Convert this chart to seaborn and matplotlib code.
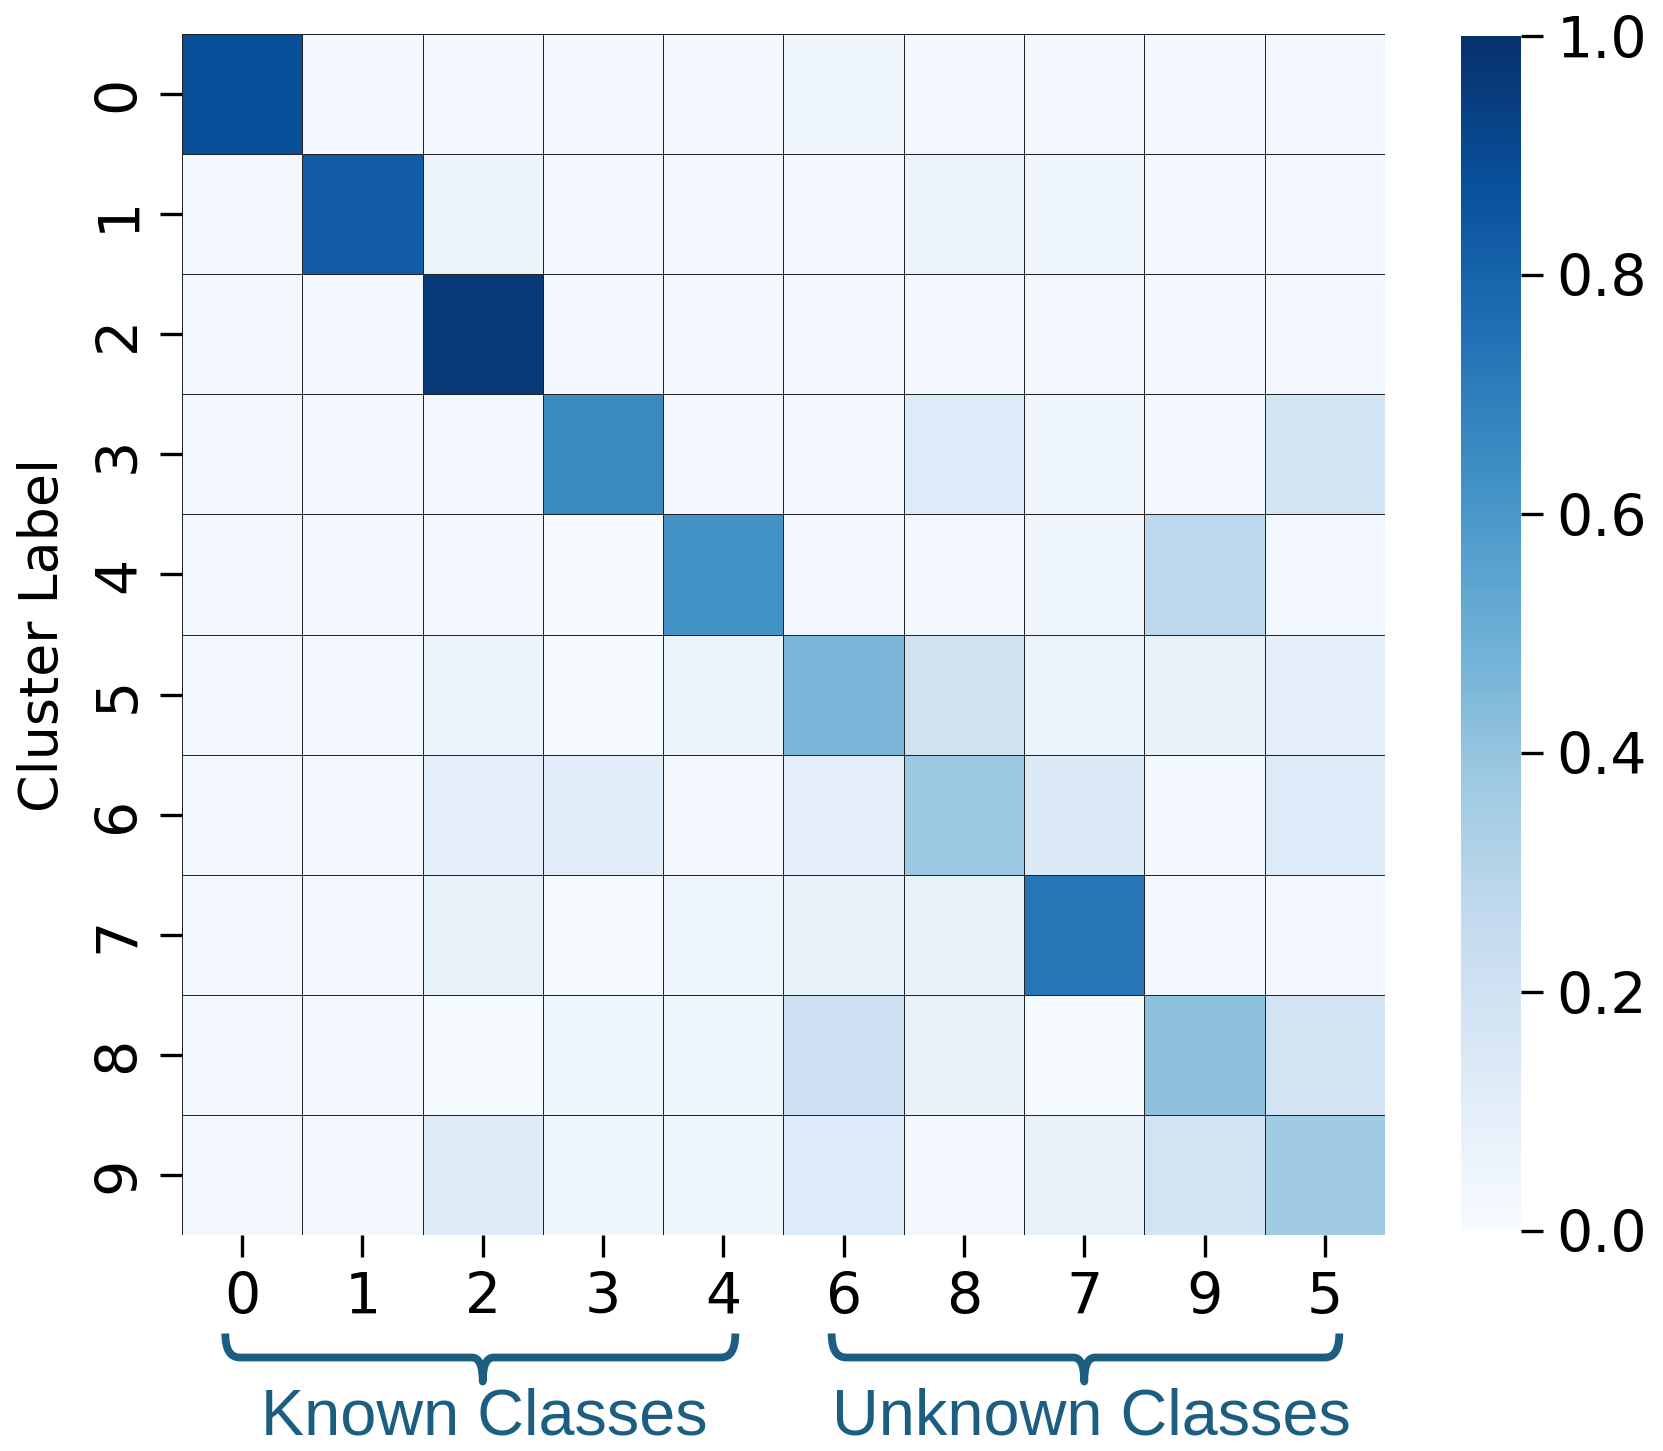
import numpy as np
import pandas as pd
import matplotlib
matplotlib.use("Agg")
import matplotlib.pyplot as plt
import seaborn as sns
from matplotlib.path import Path
from matplotlib.patches import PathPatch
from matplotlib import font_manager

col_labels = ["0", "1", "2", "3", "4", "6", "8", "7", "9", "5"]
row_labels = ["0", "1", "2", "3", "4", "5", "6", "7", "8", "9"]

row0 = [0.88, 0.02, 0.02, 0.02, 0.02, 0.04, 0.02, 0.03, 0.02, 0.03]
row1 = [0.02, 0.83, 0.06, 0.02, 0.02, 0.02, 0.07, 0.04, 0.02, 0.02]
row2 = [0.02, 0.02, 0.96, 0.02, 0.02, 0.03, 0.02, 0.03, 0.02, 0.02]
row3 = [0.02, 0.02, 0.02, 0.65, 0.02, 0.03, 0.13, 0.04, 0.03, 0.18]
row4 = [0.02, 0.02, 0.02, 0.01, 0.62, 0.03, 0.03, 0.04, 0.28, 0.03]
row5 = [0.02, 0.02, 0.06, 0.01, 0.06, 0.46, 0.20, 0.07, 0.08, 0.09]
row6 = [0.02, 0.02, 0.10, 0.11, 0.02, 0.10, 0.38, 0.14, 0.02, 0.13]
row7 = [0.02, 0.02, 0.08, 0.01, 0.05, 0.08, 0.08, 0.73, 0.03, 0.02]
row8 = [0.02, 0.02, 0.01, 0.04, 0.04, 0.21, 0.08, 0.01, 0.42, 0.19]
row9 = [0.03, 0.02, 0.12, 0.04, 0.04, 0.13, 0.02, 0.08, 0.19, 0.37]

group_names = ["Known Classes", "Unknown Classes"]
group_spans = [(0, 4), (5, 9)]  # column index ranges

cbar_ticks = [0.0, 0.2, 0.4, 0.6, 0.8, 1.0]

data = pd.DataFrame([row0, row1, row2, row3, row4, row5, row6, row7, row8, row9],
                    index=row_labels, columns=col_labels)

W, H, DPI = 1663, 1451, 200
fig = plt.figure(figsize=(W / DPI, H / DPI), dpi=DPI)
ax = fig.add_axes([182 / W, 1 - 1235 / H, (1385 - 182) / W, (1235 - 34) / H])
cax = fig.add_axes([1461 / W, 1 - 1231 / H, 60 / W, (1231 - 36) / H])

FS = 20.5
sns.heatmap(data, ax=ax, cbar_ax=cax, cmap="Blues", vmin=0, vmax=1,
            linewidths=0.3, linecolor="#222222",
            cbar_kws={"ticks": cbar_ticks})

ax.tick_params(axis="both", which="major", length=7.8, width=1.2, labelsize=FS,
               pad=5, color="black")
ax.set_xticklabels(col_labels, rotation=0)
ax.set_yticklabels(row_labels, rotation=90, va="center")
ax.set_xlabel("")
ax.set_ylabel("Cluster Label", fontsize=19.4, labelpad=8)

cax.tick_params(length=7.8, width=1.2, labelsize=FS, pad=5)
cax.set_yticklabels([f"{t:.1f}" for t in cbar_ticks])

# font for group labels
names = {f.name for f in font_manager.fontManager.ttflist}
if "Liberation Sans Narrow" in names:
    gfont = dict(family="Liberation Sans Narrow")
else:
    gfont = dict(family="Liberation Sans", stretch="condensed")

brace_color = "#1b5e82"
y_top, y_bar, y_tip = 10.82, 11.02, 11.22
offsets = [(-0.14, 0.10), (-0.10, 0.12)]
text_dx = [0.01, 0.06]
for name, (a, b), (lo, hi), dx in zip(group_names, group_spans, offsets, text_dx):
    x0 = a + 0.5 + lo
    x1 = b + 0.5 + hi
    xc = (a + b + 1) / 2.0
    r = 0.12
    r2 = 0.09
    verts = [
        (x0, y_top), (x0, y_bar), (x0 + r, y_bar),
        (xc - r2, y_bar),
        (xc, y_bar), (xc, y_tip),
        (xc, y_bar), (xc + r2, y_bar),
        (x1 - r, y_bar),
        (x1, y_bar), (x1, y_top),
    ]
    codes = [Path.MOVETO, Path.CURVE3, Path.CURVE3,
             Path.LINETO,
             Path.CURVE3, Path.CURVE3,
             Path.CURVE3, Path.CURVE3,
             Path.LINETO,
             Path.CURVE3, Path.CURVE3]
    patch = PathPatch(Path(verts, codes), facecolor="none", edgecolor=brace_color,
                      lw=2.8, clip_on=False, capstyle="butt", joinstyle="round")
    ax.add_patch(patch)
    ax.text(xc + dx, 11.52, name, ha="center", va="center", fontsize=23.3,
            color=brace_color, clip_on=False, **gfont)

fig.savefig("out.png", dpi=DPI)
